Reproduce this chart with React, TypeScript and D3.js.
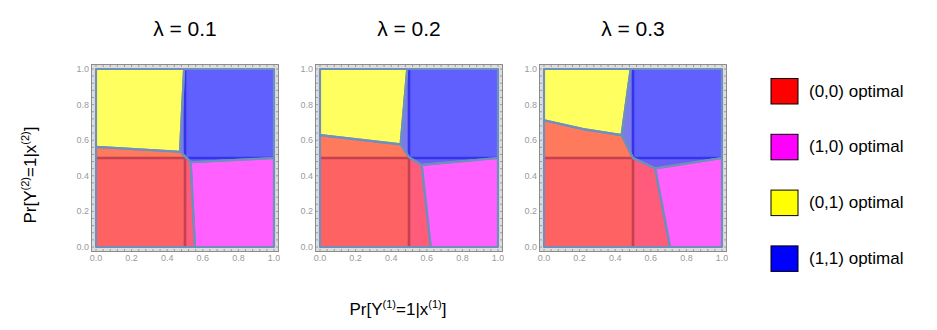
import * as d3 from "d3";

type Pt = [number, number];

// panel titles
const lambdas = ["0.1", "0.2", "0.3"];

// optimal regions, one polygon per panel (data coords)
const region00: Pt[][] = [
  [[0, 0], [0.556, 0], [0.532, 0.476], [0.505, 0.505], [0.472, 0.535], [0, 0.563]],
  [[0, 0], [0.622, 0], [0.571, 0.461], [0.5, 0.505], [0.453, 0.577], [0, 0.629]],
  [[0, 0], [0.708, 0], [0.665, 0.226], [0.624, 0.442], [0.5, 0.5], [0.436, 0.629], [0.22, 0.662], [0, 0.712]],
];
const region10: Pt[][] = [
  [[0.532, 0.476], [1, 0.5], [1, 0], [0.556, 0]],
  [[0.571, 0.461], [1, 0.5], [1, 0], [0.622, 0]],
  [[0.624, 0.442], [1, 0.5], [1, 0], [0.708, 0], [0.665, 0.226]],
];
const region01: Pt[][] = [
  [[0, 1], [0.495, 1], [0.472, 0.535], [0, 0.563]],
  [[0, 1], [0.49, 1], [0.453, 0.577], [0, 0.629]],
  [[0, 1], [0.487, 1], [0.436, 0.629], [0.22, 0.662], [0, 0.712]],
];
const region11: Pt[][] = [
  [[0.495, 1], [1, 1], [1, 0.5], [0.532, 0.476], [0.505, 0.505], [0.472, 0.535]],
  [[0.49, 1], [1, 1], [1, 0.5], [0.571, 0.461], [0.5, 0.505], [0.453, 0.577]],
  [[0.487, 1], [1, 1], [1, 0.5], [0.624, 0.442], [0.5, 0.5], [0.436, 0.629]],
];

const tickValues = [0, 0.2, 0.4, 0.6, 0.8, 1];
const minorTicks = d3.range(0, 1.0001, 0.04);

const legendLabels = ["(0,0) optimal", "(1,0) optimal", "(0,1) optimal", "(1,1) optimal"];
const legendColors = ["#ff0000", "#ff00ff", "#ffff00", "#0000ff"];

// quadrants: 0 = lower-left, 1 = lower-right, 2 = upper-left, 3 = upper-right
const quadrants: [number, number, number, number][] = [
  [0, 0, 0.5, 0.5],
  [0.5, 0, 1, 0.5],
  [0, 0.5, 0.5, 1],
  [0.5, 0.5, 1, 1],
];
// fill of each region as seen over each quadrant
const fills: Record<string, string[]> = {
  r00: ["#ff6262", "#ff5b7b", "#ff7a5c", "#ff6262"],
  r10: ["#ff60ff", "#ff60ff", "#ff60ff", "#ff60ff"],
  r01: ["#ffff60", "#ffff60", "#ffff60", "#ffff60"],
  r11: ["#6060ff", "#6a5ff2", "#7a7ae8", "#6060ff"],
};

const size = 178;
const panelX = [96, 320, 544];
const panelY = 69;
const font = "Liberation Sans, Arial, sans-serif";

const x = d3.scaleLinear().domain([0, 1]).range([0, size]);
const y = d3.scaleLinear().domain([0, 1]).range([size, 0]);
const line = d3.line<Pt>().x((d) => x(d[0])).y((d) => y(d[1]));
const poly = (p: Pt[]) => line(p) + "Z";

function Panel({ i }: { i: number }) {
  const regions: [string, Pt[]][] = [
    ["r00", region00[i]],
    ["r10", region10[i]],
    ["r01", region01[i]],
    ["r11", region11[i]],
  ];
  const fmt = d3.format(".1f");
  return (
    <g transform={`translate(${panelX[i]},${panelY})`}>
      <defs>
        <clipPath id={`lbl-${i}`}>
          <rect x={-40} y={-10} width={size + 46} height={size + 30} />
        </clipPath>
        <clipPath id={`red-${i}`}>
          <path d={poly(region00[i])} />
        </clipPath>
        <clipPath id={`blue-${i}`}>
          <path d={poly(region11[i])} />
        </clipPath>
      </defs>
      <text x={size / 2} y={-33} textAnchor="middle" fontFamily={font} fontSize={21} fill="#000">
        {`λ = ${lambdas[i]}`}
      </text>
      <rect x={-4.5} y={-4.5} width={size + 9} height={size + 9} fill="#dedede" stroke="#8c8c8c" strokeWidth={1} />
      {minorTicks.map((t, k) => (
        <g key={k} stroke="#8a8a8a" strokeWidth={0.8}>
          <line x1={x(t)} x2={x(t)} y1={-4.5} y2={-2} />
          <line x1={x(t)} x2={x(t)} y1={size + 4.5} y2={size + 2} />
          <line y1={y(t)} y2={y(t)} x1={-4.5} x2={-2} />
          <line y1={y(t)} y2={y(t)} x1={size + 4.5} x2={size + 2} />
        </g>
      ))}
      {regions.map(([key, p]) =>
        quadrants.map((q, qi) => (
          <g key={key + qi} clipPath={`url(#q-${qi})`}>
            <path d={poly(p)} fill={fills[key][qi]} />
          </g>
        ))
      )}
      <g clipPath={`url(#red-${i})`} stroke="#c4424f" strokeWidth={2.6}>
        <line x1={x(0)} x2={x(0.5)} y1={y(0.5)} y2={y(0.5)} />
        <line x1={x(0.5)} x2={x(0.5)} y1={y(0)} y2={y(0.5)} />
      </g>
      <g clipPath={`url(#blue-${i})`} stroke="#3434ea" strokeWidth={2.6}>
        <line x1={x(0.5)} x2={x(1)} y1={y(0.5)} y2={y(0.5)} />
        <line x1={x(0.5)} x2={x(0.5)} y1={y(0.5)} y2={y(1)} />
      </g>
      {regions.map(([key, p]) => (
        <path key={key} d={poly(p)} fill="none" stroke="#6f8fbd" strokeWidth={2.2} strokeLinejoin="round" />
      ))}
      <g clipPath={`url(#lbl-${i})`} fontFamily={font} fontSize={9} fill="#9a9a9a">
        {tickValues.map((t) => (
          <text key={"x" + t} x={x(t)} y={size + 14} textAnchor="middle">
            {fmt(t)}
          </text>
        ))}
        {tickValues.map((t) => (
          <text key={"y" + t} x={-7} y={y(t) + 3} textAnchor="end">
            {fmt(t)}
          </text>
        ))}
      </g>
    </g>
  );
}

export default function App() {
  return (
    <svg width={937} height={330} style={{ position: "absolute", left: 0, top: 0 }}>
      <defs>
        {quadrants.map((q, qi) => (
          <clipPath key={qi} id={`q-${qi}`}>
            <rect x={x(q[0])} y={y(q[3])} width={x(q[2]) - x(q[0])} height={y(q[1]) - y(q[3])} />
          </clipPath>
        ))}
      </defs>
      <rect width={937} height={330} fill="#fff" />
      {lambdas.map((_, i) => (
        <Panel key={i} i={i} />
      ))}
      <text transform="translate(36,175) rotate(-90)" textAnchor="middle" fontFamily={font} fontSize={17}>
        Pr[Y<tspan fontSize={11} dy={-7}>(2)</tspan>
        <tspan dy={7}>=1|x</tspan>
        <tspan fontSize={11} dy={-7}>(2)</tspan>
        <tspan dy={7}>]</tspan>
      </text>
      <text x={398} y={315} textAnchor="middle" fontFamily={font} fontSize={17}>
        Pr[Y<tspan fontSize={11} dy={-7}>(1)</tspan>
        <tspan dy={7}>=1|x</tspan>
        <tspan fontSize={11} dy={-7}>(1)</tspan>
        <tspan dy={7}>]</tspan>
      </text>
      {legendLabels.map((l, k) => (
        <g key={l} transform={`translate(771,${78.5 + k * 55.8})`}>
          <rect width={27} height={25.5} fill={legendColors[k]} stroke="#000" strokeWidth={1} />
          <text x={38} y={18} fontFamily={font} fontSize={17}>
            {l}
          </text>
        </g>
      ))}
    </svg>
  );
}
